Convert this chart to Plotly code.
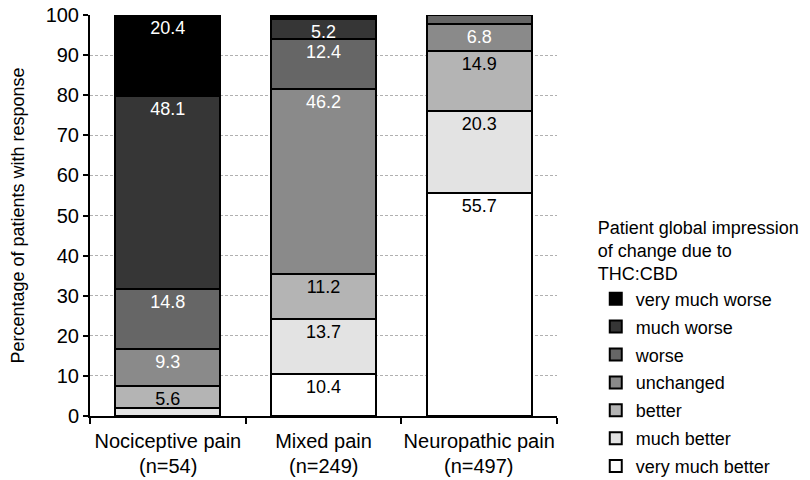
import plotly.graph_objects as go

categories = ["Nociceptive pain", "Mixed pain", "Neuropathic pain"]
sample_sizes = ["(n=54)", "(n=249)", "(n=497)"]
series_names = ["very much better", "much better", "better", "unchanged", "worse", "much worse", "very much worse"]
very_much_better = [0.0, 10.4, 55.7]
much_better = [1.9, 13.7, 20.3]
better = [5.6, 11.2, 14.9]
unchanged = [9.3, 46.2, 6.8]
worse = [14.8, 12.4, 2.3]
much_worse = [48.1, 5.2, 0.0]
very_much_worse = [20.4, 0.9, 0.0]
series_values = [very_much_better, much_better, better, unchanged, worse, much_worse, very_much_worse]
colors = ["#ffffff", "#e3e3e3", "#b4b4b4", "#8a8a8a", "#666666", "#363636", "#000000"]
label_colors = ["black", "black", "black", "white", "white", "white", "white"]
min_label = 4.0
FONT = "Liberation Sans, Arial, sans-serif"

fig = go.Figure()
n_series = len(series_names)
for i, (name, vals, col, tcol) in enumerate(zip(series_names, series_values, colors, label_colors)):
    texts = [f"{v:.1f}" if v >= min_label else "" for v in vals]
    fig.add_trace(go.Bar(
        x=categories, y=vals, name=name, legendgroup=name, legendrank=1000 + n_series - i,
        marker=dict(color=col, line=dict(color="black", width=2)),
        text=texts, textposition="inside", insidetextanchor="end",
        textangle=0, constraintext="none",
        textfont=dict(color=tcol, size=18, family=FONT),
        hoverinfo="skip",
    ))

for cat, n in zip(categories, sample_sizes):
    fig.add_annotation(
        x=cat, xref="x", y=0, yref="paper", yanchor="top", yshift=-37,
        text=n, showarrow=False, font=dict(size=20, family=FONT, color="black"),
    )

fig.update_layout(
    barmode="stack", bargap=0.325,
    width=802, height=472,
    margin=dict(l=82, r=253, t=7, b=64, autoexpand=False),
    plot_bgcolor="white", paper_bgcolor="white",
    font=dict(family=FONT, color="black"),
    legend=dict(
        title=dict(text="Patient global impression<br>of change due to<br>THC:CBD", font=dict(size=18)),
        font=dict(size=18), traceorder="grouped", tracegroupgap=1.5,
        x=1.083, xanchor="left", y=0.513, yanchor="top",
        itemwidth=30,
    ),
)
fig.update_yaxes(
    range=[0, 100], dtick=10, tick0=0, automargin=False,
    showline=True, linecolor="black", linewidth=2,
    ticks="outside", ticklen=5, tickwidth=2, tickcolor="black",
    showgrid=True, gridcolor="#b0b0b0", griddash="3px,2px", gridwidth=1,
    tickfont=dict(size=20), zeroline=False, ticklabeloverflow="allow",
    title=dict(text="Percentage of patients with response", font=dict(size=18), standoff=37),
)
fig.update_xaxes(
    showline=True, linecolor="black", linewidth=2, automargin=False,
    ticks="outside", tickson="boundaries", ticklen=6, tickwidth=2, tickcolor="black",
    tickfont=dict(size=20), tickangle=0, showgrid=False, ticklabelstandoff=6,
    ticklabeloverflow="allow",
)

fig.write_html("out.html")
